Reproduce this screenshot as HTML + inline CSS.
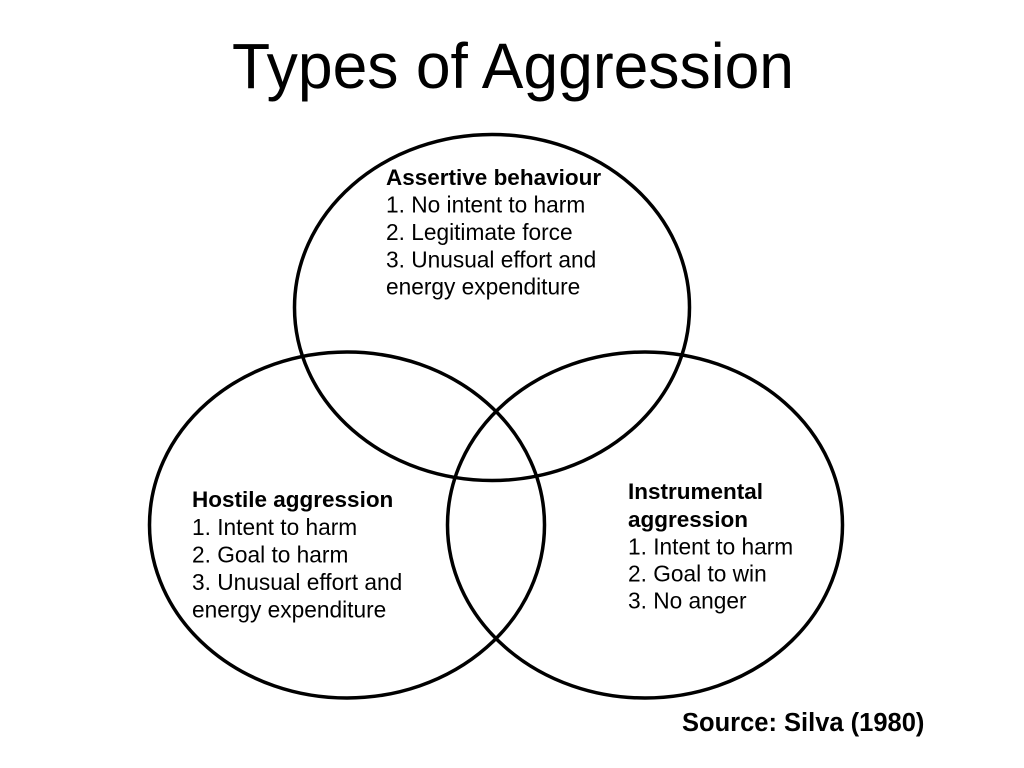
<!DOCTYPE html>
<html>
<head>
<meta charset="utf-8">
<style>
html,body{margin:0;padding:0;background:#fff;}
svg{display:block;}
text{font-family:"Liberation Sans",Arial,sans-serif;fill:#000;}
.b{font-size:22.7px;}
.h{font-weight:bold;font-size:22.5px;}
</style>
</head>
<body>
<svg width="1024" height="768" viewBox="0 0 1024 768" xmlns="http://www.w3.org/2000/svg">
<rect width="1024" height="768" fill="#fff"/>
<text x="232" y="88" font-size="64" textLength="562" lengthAdjust="spacingAndGlyphs">Types of Aggression</text>
<g fill="none" stroke="#000" stroke-width="3.5">
<ellipse cx="492" cy="307.500" rx="197.500" ry="173"/>
<ellipse cx="347" cy="525" rx="197.500" ry="173"/>
<ellipse cx="645" cy="525" rx="197.500" ry="173"/>
</g>
<g class="b">
<text x="386" y="185" class="h">Assertive behaviour</text>
<text x="386" y="212.500">1. No intent to harm</text>
<text x="386" y="240">2. Legitimate force</text>
<text x="386" y="267.500">3. Unusual effort and</text>
<text x="386" y="294.500">energy expenditure</text>
<text x="192" y="507" class="h">Hostile aggression</text>
<text x="192" y="535">1. Intent to harm</text>
<text x="192" y="562.500">2. Goal to harm</text>
<text x="192" y="590">3. Unusual effort and</text>
<text x="192" y="617.500">energy expenditure</text>
<text x="628" y="499" class="h">Instrumental</text>
<text x="628" y="527" class="h">aggression</text>
<text x="628" y="554.500">1. Intent to harm</text>
<text x="628" y="581.500">2. Goal to win</text>
<text x="628" y="608.500">3. No anger</text>
</g>
<text x="682" y="731" font-size="25.5" font-weight="bold">Source: Silva (1980)</text>
</svg>
</body>
</html>
